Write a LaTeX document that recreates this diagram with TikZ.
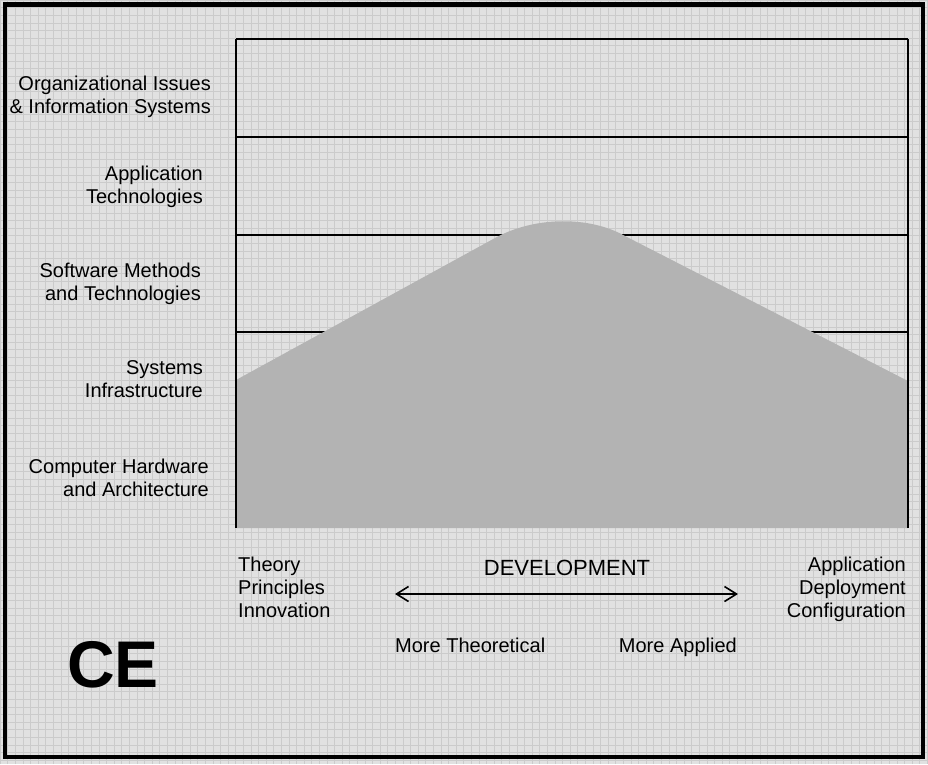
\documentclass[tikz,border=0pt]{standalone}
\usepackage{fontspec}
\setmainfont{Liberation Sans}
\usetikzlibrary{arrows.meta}
\definecolor{paper}{HTML}{E1E1E1}
\definecolor{gridgray}{HTML}{CBCBCB}
\definecolor{hill}{HTML}{B3B3B3}

\begin{document}
\begin{tikzpicture}[
  x=1pt,y=-1pt,
  lbl/.style={inner sep=0pt,font=\fontsize{20}{23}\selectfont},
  band/.style={line width=1.4pt,black},
  arrow/.style={{Straight Barb[length=12pt,width=15pt]}-{Straight Barb[length=12pt,width=15pt]},line width=1.6pt}
]
\useasboundingbox (0,0) rectangle (928,764);
\fill[paper] (0,0) rectangle (928,764);
\draw[gridgray,line width=0.6pt,step=7.6pt] (0,764) grid (928,0);
\draw[line width=4.6pt] (5,4.5) rectangle (923,757);

% layers
\foreach \y in {39,137,235,332,430}
  \draw[band] (236,\y) -- (908,\y);
\fill[hill] (236,380) -- (495,238) .. controls (535,216) and (590,216) .. (625,236)
  -- (908,381) -- (908,528) -- (236,528) -- cycle;
\draw[band] (236,39) -- (236,528);
\draw[band] (908,39) -- (908,528);

\node[lbl,anchor=north east,align=right] (org) at (211,75.6) {Organizational Issues\\\& Information Systems};
\node[lbl,anchor=north east,align=right] (apptech) at (203,165.6) {Application\\Technologies};
\node[lbl,anchor=north east,align=right] (swmeth) at (201,262.6) {Software Methods\\and Technologies};
\node[lbl,anchor=north east,align=right] (sysinf) at (203,360.6) {Systems\\Infrastructure};
\node[lbl,anchor=north east,align=right] (hwarch) at (209,458.6) {Computer Hardware\\and Architecture};

\node[lbl,anchor=north west,align=left] (theory) at (238,556.6) {Theory\\Principles\\Innovation};
\node[lbl,anchor=north east,align=right] (deploy) at (906,556.6) {Application\\Deployment\\Configuration};
\node[lbl,anchor=north,font=\fontsize{22}{25}\selectfont] (dev) at (567,560.2) {DEVELOPMENT};
\node[lbl,anchor=north west] (moretheo) at (395,637.6) {More Theoretical};
\node[lbl,anchor=north east] (moreapp) at (737,637.6) {More Applied};
\node[inner sep=0pt,anchor=north west,font=\fontsize{66}{72}\selectfont\bfseries] (ce) at (67,641) {CE};

\coordinate (devL) at (395,594);
\coordinate (devR) at (738,594);
\draw[arrow] (devL) -- (devR);
\end{tikzpicture}
\end{document}
